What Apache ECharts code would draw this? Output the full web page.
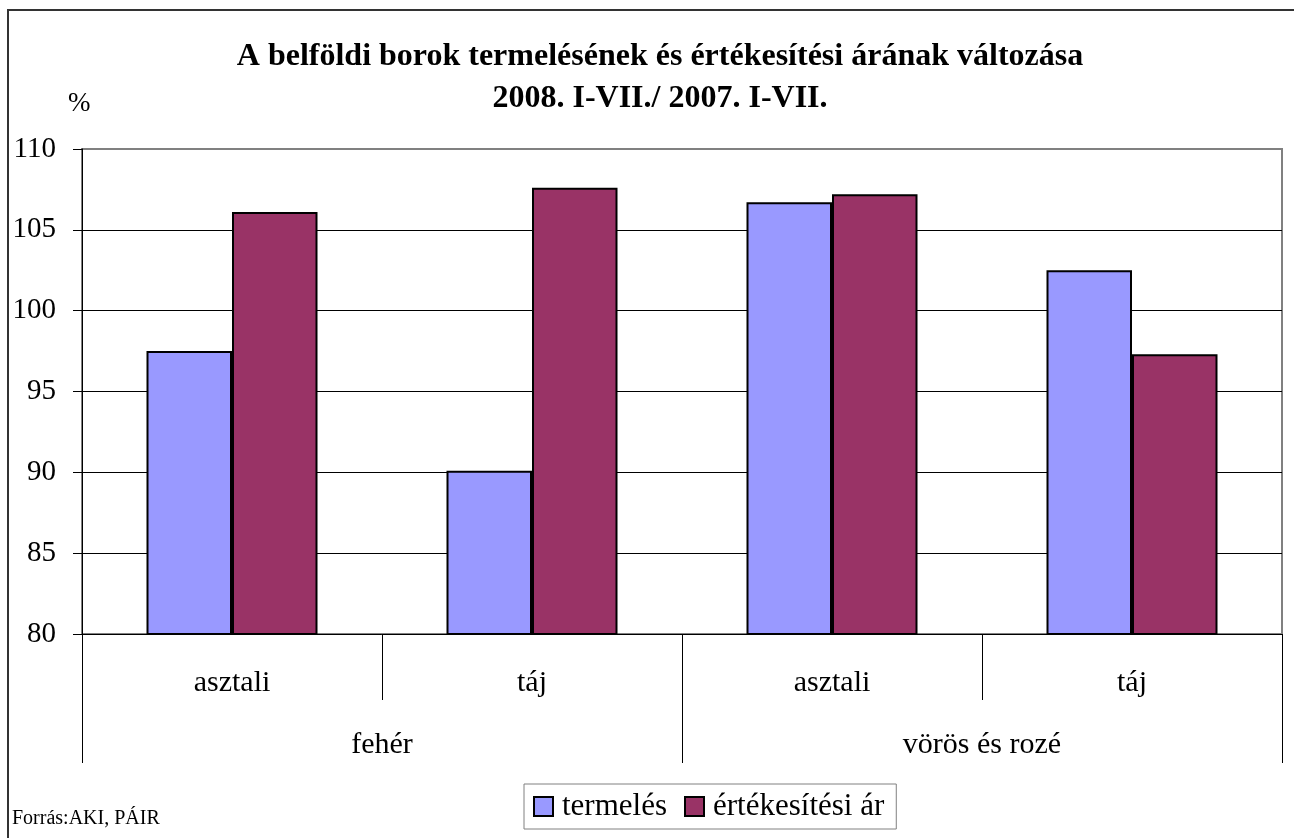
<!DOCTYPE html>
<html>
<head>
<meta charset="utf-8">
<script src="https://cdn.jsdelivr.net/npm/echarts@6/dist/echarts.min.js"></script>
<style>
html, body { margin: 0; padding: 0; background: #fff; }
#chart { width: 1294px; height: 838px; }
</style>
</head>
<body>
<div id="chart"></div>
<script>
var subCategories = ['asztali', 'táj', 'asztali', 'táj'];
var groupCategories = ['fehér', 'vörös és rozé'];
var seriesNames = ['termelés', 'értékesítési ár'];
var termeles = [97.5, 90.1, 106.7, 102.5];
var ertekesitesiAr = [106.1, 107.6, 107.2, 97.3];

var serif = '"Liberation Serif", "DejaVu Serif", serif';

var chart = echarts.init(document.getElementById('chart'));
var option = {
    animation: false,
    backgroundColor: '#fff',
    textStyle: { fontFamily: serif, color: '#000' },
    title: {
        text: 'A belföldi borok termelésének és értékesítési árának változása\n2008. I-VII./ 2007. I-VII.',
        left: 655,
        top: 31,
        textAlign: 'center',
        textStyle: { fontFamily: serif, fontSize: 32, fontWeight: 'bold', color: '#000', lineHeight: 42 }
    },
    legend: {
        data: seriesNames,
        left: 524,
        top: 784,
        itemWidth: 19,
        itemHeight: 19,
        itemGap: 17,
        padding: [7, 12, 7, 9],
        borderColor: '#808080',
        borderWidth: 1,
        icon: 'rect',
        textStyle: { fontFamily: serif, fontSize: 31, color: '#000', padding: [0, 0, 0, 4] }
    },
    grid: {
        left: 82,
        right: 12,
        top: 149,
        bottom: 204,
        show: true,
        borderColor: '#808080',
        borderWidth: 2
    },
    xAxis: [
        {
            type: 'category',
            data: subCategories,
            position: 'bottom',
            axisLine: { lineStyle: { color: '#000', width: 1 } },
            axisTick: { show: true, alignWithLabel: false, length: 66, lineStyle: { color: '#000' } },
            axisLabel: { margin: 34, fontFamily: serif, fontSize: 30, color: '#000' }
        },
        {
            type: 'category',
            data: groupCategories,
            position: 'bottom',
            axisLine: { show: false },
            axisTick: { show: true, length: 129, lineStyle: { color: '#000' } },
            axisLabel: { margin: 96, fontFamily: serif, fontSize: 30, color: '#000' }
        }
    ],
    yAxis: {
        type: 'value',
        min: 80,
        max: 110,
        interval: 5,
        axisLine: { show: true, lineStyle: { color: '#000', width: 1 } },
        axisTick: { show: true, length: 9, lineStyle: { color: '#000' } },
        axisLabel: { margin: 26, fontFamily: serif, fontSize: 29, color: '#000' },
        splitLine: { show: true, showMinLine: false, showMaxLine: false, lineStyle: { color: '#000', width: 1 } }
    },
    series: [
        {
            name: seriesNames[0],
            type: 'bar',
            data: termeles,
            barGap: '0%',
            barCategoryGap: '43%',
            itemStyle: { color: '#9999FF', borderColor: '#000', borderWidth: 2 }
        },
        {
            name: seriesNames[1],
            type: 'bar',
            data: ertekesitesiAr,
            itemStyle: { color: '#993366', borderColor: '#000', borderWidth: 2 }
        }
    ],
    graphic: [
        {
            type: 'polyline',
            shape: { points: [[8, 860], [8, 10], [1300, 10]] },
            style: { stroke: '#333', lineWidth: 2, fill: null }
        },
        {
            type: 'text',
            left: 68,
            top: 90,
            style: { text: '%', font: '27px ' + serif, fill: '#000' }
        },
        {
            type: 'text',
            left: 12,
            top: 809,
            style: { text: 'Forrás:AKI, PÁIR', font: '20px ' + serif, fill: '#000' }
        }
    ]
};
chart.setOption(option);
</script>
</body>
</html>
